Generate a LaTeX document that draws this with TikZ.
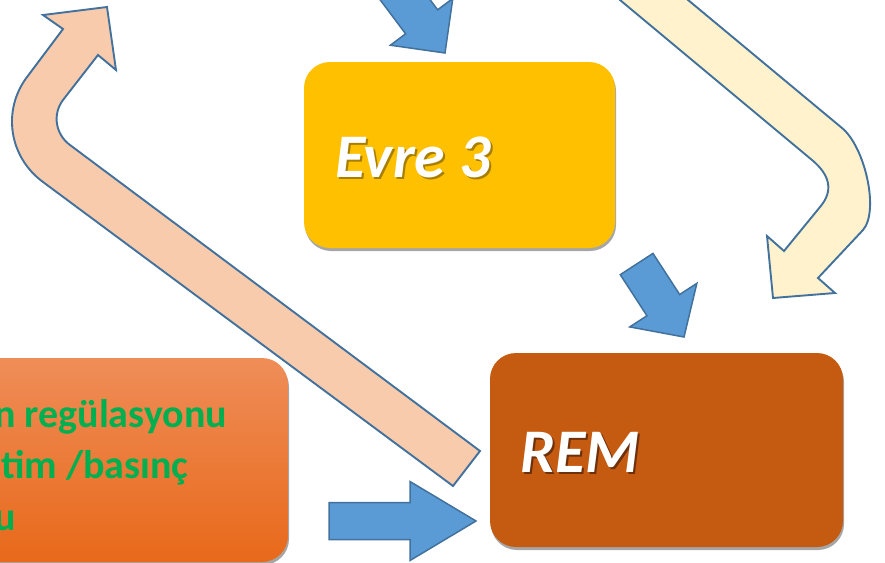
\documentclass[tikz,border=0pt]{standalone}
\usepackage{fontspec}
\setmainfont{Carlito}
\usetikzlibrary{shadows}
\definecolor{evrec}{HTML}{FFC000}
\definecolor{remc}{HTML}{C55A11}
\definecolor{orTop}{HTML}{EF8D58}
\definecolor{orBot}{HTML}{E8691A}
\definecolor{grn}{HTML}{00B050}
\definecolor{bfill}{HTML}{5B9BD5}
\definecolor{bline}{HTML}{41719C}
\definecolor{peach}{HTML}{F8CBAD}
\definecolor{cream}{HTML}{FFF2CC}
\definecolor{evresh}{HTML}{A77E00}
\definecolor{remsh}{HTML}{6E300A}
\newcommand{\shadowtext}[2]{\makebox[0pt][l]{\hspace{2pt}\raisebox{-2pt}{\color{#1}#2}}#2}
\tikzset{
  box/.style={rounded corners=26pt, inner sep=0pt, draw=none,
    drop shadow={shadow xshift=1pt, shadow yshift=-3pt, opacity=0.35, fill=black}},
  bigtxt/.style={font=\fontsize{62}{70}\selectfont\bfseries\itshape, text=white, inner sep=0pt},
  grntxt/.style={font=\fontsize{40}{48}\selectfont\bfseries, text=grn, inner sep=0pt},
  bluearr/.style={fill=bfill, draw=bline, line width=1.5pt, line join=miter},
  bentarr/.style={draw=bline, line width=1.9pt, line join=miter},
}
% #1 tip, #2 angle, #3 total length, #4 head length, #5 shaft half width, #6 head half width
\newcommand{\myblockarrow}[6]{%
  \draw[bluearr, shift={#1}, rotate=#2] (0,0) -- (-#4,#6) -- (-#4,#5) -- (-#3,#5)
     -- (-#3,-#5) -- (-#4,-#5) -- (-#4,-#6) -- cycle;}
\begin{document}
\begin{tikzpicture}[x=1pt,y=-1pt]
\useasboundingbox (0,0) rectangle (885,562);
\clip (0,0) rectangle (885,562);
% boxes
\node[box, top color=orTop, bottom color=orBot, minimum width=328pt, minimum height=204pt] (orbox) at (124,460) {};
\node[box, fill=evrec, minimum width=311pt, minimum height=186pt] (evre) at (459.5,155) {};
\node[box, fill=remc, minimum width=353pt, minimum height=194pt] (rem) at (666.5,450) {};
% texts
\node[bigtxt, anchor=base west] (evretxt) at (335,177) {\shadowtext{evresh}{Evre 3}};
\node[bigtxt, anchor=base west] (remtxt) at (520,472) {\shadowtext{remsh}{REM}};
\node[grntxt, anchor=base west] (l1) at (-6,427) {n regülasyonu};
\node[grntxt, anchor=base west] (l2) at (1,478) {tim /basınç};
\node[grntxt, anchor=base west] (l3) at (-6,530) {u};
% peach bent arrow
\draw[bentarr, fill=peach] (480,451) -- (70,145) .. controls (55.5,134.3) and (52.2,114.4) .. (63,100)
  -- (98,55) -- (116,70) -- (107,7) -- (43,15) -- (63,29) -- (27,77)
  .. controls (1.8,110.6) and (9.1,157.1) .. (43,182) -- (453,486) -- cycle;
% cream bent arrow
\draw[bentarr, fill=cream] (596,-20) -- (812,160) .. controls (830.7,175.7) and (833.3,191.3) .. (820,207)
  -- (784,251) -- (767,236) -- (773,298) -- (835,293) -- (818,278) -- (863,230)
  .. controls (879.5,211) and (865,147) .. (842,128) -- (664,-20) -- cycle;
% blue arrows
\myblockarrow{(445,53)}{-53.13}{110}{39}{20}{39}
\myblockarrow{(684,337)}{-57}{87}{38}{19.5}{40}
\myblockarrow{(476,521)}{0}{147}{66}{18.5}{39.5}
\end{tikzpicture}
\end{document}
